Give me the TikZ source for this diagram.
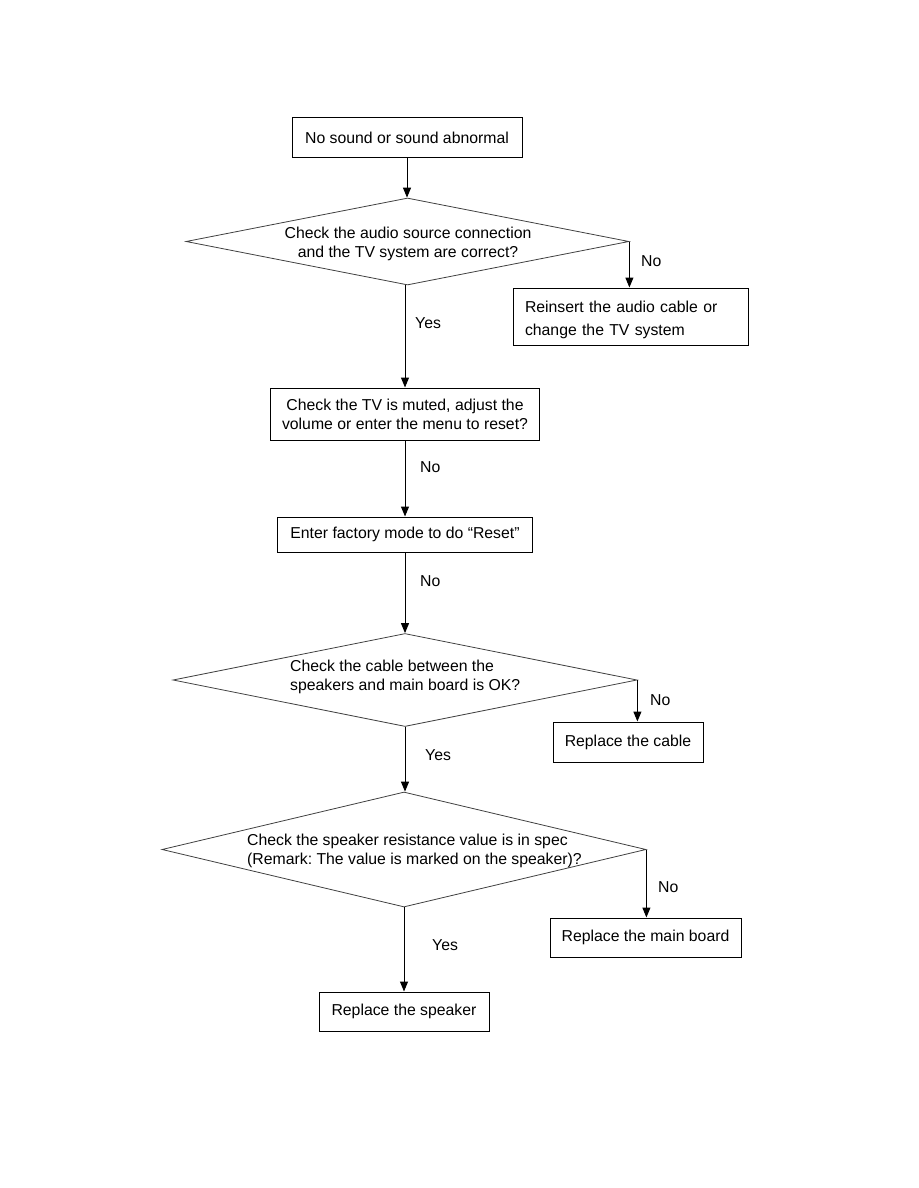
\documentclass[tikz,border=0pt]{standalone}
\usepackage{fontspec}
\setmainfont{Liberation Sans}
\usetikzlibrary{arrows.meta,shapes.geometric}
\newcommand{\fsz}{\fontsize{15.8}{19}\selectfont\frenchspacing}
\tikzset{
  >={Triangle[length=10pt,width=8pt]},
  box/.style={draw, line width=1pt, align=center, inner sep=0pt, font=\fsz},
  dec/.style={diamond, draw=black!75, line width=0.8pt, inner sep=0pt},
  dtxt/.style={font=\fsz, inner sep=0pt},
  lbl/.style={font=\fsz, anchor=base west, inner sep=0pt},
  flow/.style={->, line width=1pt},
}

\begin{document}
\begin{tikzpicture}[x=1pt,y=-1pt]
  \useasboundingbox (0,0) rectangle (918,1188);
  % main column
  \node[box,minimum width=230pt,minimum height=39pt] (start) at (407,137.5)
        {No sound or sound abnormal};
  \node[dec,minimum width=443pt,minimum height=87pt] (chk1) at (407.5,241.5) {};
  \node[dtxt,align=center] (chk1t) at (408,244)
        {Check the audio source connection\\and the TV system are correct?};
  \node[box,text width=211pt,align=left,inner xsep=12pt,minimum height=57pt] (fix) at (630.5,316.5)
        {\rule{0pt}{18pt}Reinsert the audio cable or\\[4pt]change the TV system};
  \node[box,minimum width=269pt,minimum height=52pt] (mute) at (405,414)
        {Check the TV is muted, adjust the\\volume or enter the menu to reset?};
  \node[box,minimum width=255pt,minimum height=35pt] (reset) at (405,534.5)
        {Enter factory mode to do “Reset”};
  \node[dec,minimum width=464pt,minimum height=93pt] (chk2) at (405,680) {};
  \node[dtxt,align=left,anchor=west] (chk2t) at (290,677)
        {Check the cable between the\\speakers and main board is OK?};
  \node[box,minimum width=150pt,minimum height=40pt] (cable) at (628,742) {Replace the cable};
  \node[dec,minimum width=484pt,minimum height=115pt] (chk3) at (404,849.5) {};
  \node[dtxt,align=left,anchor=west] (chk3t) at (247,851)
        {Check the speaker resistance value is in spec\\(Remark: The value is marked on the speaker)?};
  \node[box,minimum width=191pt,minimum height=39pt] (board) at (645.5,937.5) {Replace the main board};
  \node[box,minimum width=170pt,minimum height=39pt] (spk) at (404,1011.5) {Replace the speaker};
  % connectors
  \draw[flow] (start.south) -- (start.south |- chk1.north);
  \draw[flow] (chk1.east) -- (chk1.east |- fix.north);
  \draw[flow] (mute.north |- chk1.south) -- (mute.north);
  \draw[flow] (mute) -- (reset);
  \draw[flow] (reset) -- (chk2);
  \draw[flow] (chk2.east) -- (chk2.east |- cable.north);
  \draw[flow] (chk2.south) -- (chk2.south |- chk3.north);
  \draw[flow] (chk3.east) -- (chk3.east |- board.north);
  \draw[flow] (chk3.south) -- (chk3.south |- spk.north);
  % labels
  \node[lbl] (no1) at (641,266) {No};
  \node[lbl] (yes1) at (415,328) {Yes};
  \node[lbl] (no2) at (420,472) {No};
  \node[lbl] (no3) at (420,586) {No};
  \node[lbl] (no4) at (650,705) {No};
  \node[lbl] (yes2) at (425,760) {Yes};
  \node[lbl] (no5) at (658,892) {No};
  \node[lbl] (yes3) at (432,950) {Yes};
\end{tikzpicture}
\end{document}
